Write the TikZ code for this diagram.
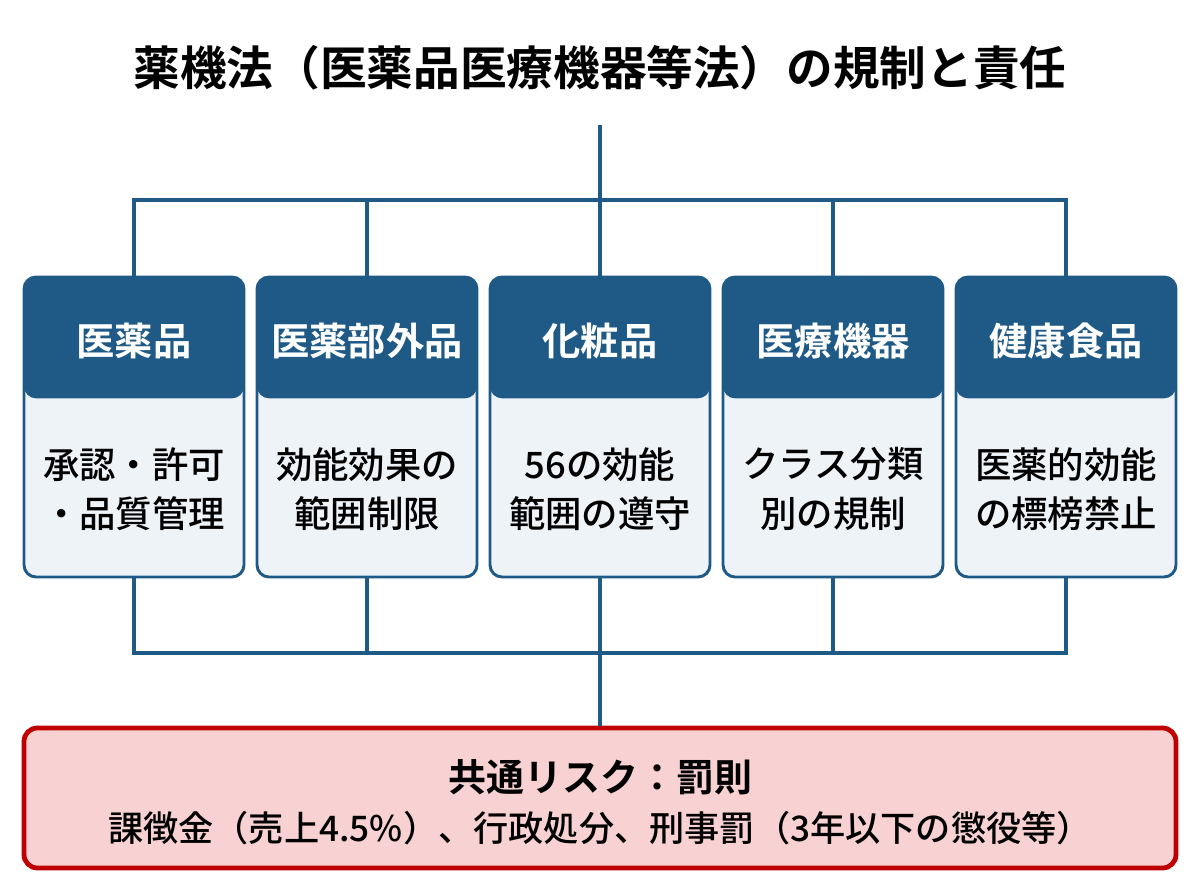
\documentclass[tikz,border=0pt]{standalone}
\usepackage{fontspec}
\newfontfamily\jp{Noto Sans CJK JP}
\newfontfamily\jpm{Noto Sans CJK JP Medium}
\newfontfamily\jpb{Noto Sans CJK JP Bold}
\definecolor{hdr}{HTML}{1F5A87}
\definecolor{bodyfill}{HTML}{EEF3F8}
\definecolor{riskred}{HTML}{C00000}
\definecolor{riskfill}{HTML}{F8D2D2}
\tikzset{
  conn/.style={draw=hdr, line width=3pt},
  catbox/.style={draw=hdr, line width=2.2pt, fill=bodyfill, rounded corners=9pt,
    minimum width=165pt, minimum height=225pt, inner sep=0pt,
    path picture={\fill[hdr] (path picture bounding box.north west) rectangle ([yshift=-91pt]path picture bounding box.north east);}},
  hdrtext/.style={text=white, font=\jpb\fontsize{28.7}{34}\selectfont},
  bodytext/.style={text=black, align=center, font=\jpm\fontsize{27.3}{37}\selectfont},
}
\begin{document}
\begin{tikzpicture}[x=0.75pt,y=-0.75pt]
\useasboundingbox (0,0) rectangle (1200,896);
\node[font=\jpb\fontsize{35}{42}\selectfont] (title) at (600,68) {薬機法（医薬品医療機器等法）の規制と責任};
\coordinate (top) at (600,125);
\coordinate (hub) at (600,200);
\coordinate (bhub) at (600,653);
% boxes
\foreach \i/\x/\h/\b in {1/134/医薬品/{承認・許可\\・品質管理},
                         2/367/医薬部外品/{効能効果の\\範囲制限},
                         3/600/化粧品/{56の効能\\範囲の遵守},
                         4/833/医療機器/{クラス分類\\別の規制},
                         5/1066/健康食品/{医薬的効能\\の標榜禁止}}{
  \node[catbox] (box\i) at (\x,427) {};
  \node[hdrtext] (h\i) at (\x,341) {\h};
  \node[bodytext] (b\i) at (\x,489) {\b};
  \coordinate (u\i) at (\x,200);
  \coordinate (d\i) at (\x,653);
}
% top tree
\draw[conn] (top) -- (box3.north);
\draw[conn, line cap=rect] (u1) -- (u5);
\foreach \i in {1,2,4,5} \draw[conn] (u\i) -- (box\i.north);
% bottom tree
\draw[conn, line cap=rect] (d1) -- (d5);
\foreach \i in {1,2,3,4,5} \draw[conn] (box\i.south) -- (d\i);
% risk box
\node[draw=riskred, fill=riskfill, line width=3.6pt, rounded corners=10pt,
  minimum width=864pt, minimum height=105pt, inner sep=0pt] (risk) at (600,798) {};
\draw[conn] (bhub) -- (risk.north);
\node[font=\jpb\fontsize{28.5}{32}\selectfont] (rt) at (600,777) {共通リスク：罰則};
\node[font=\jpm\fontsize{26.4}{30}\selectfont] (rb) at (600,828) {課徴金（売上4.5\%）、行政処分、刑事罰（3年以下の懲役等）};
\end{tikzpicture}
\end{document}
